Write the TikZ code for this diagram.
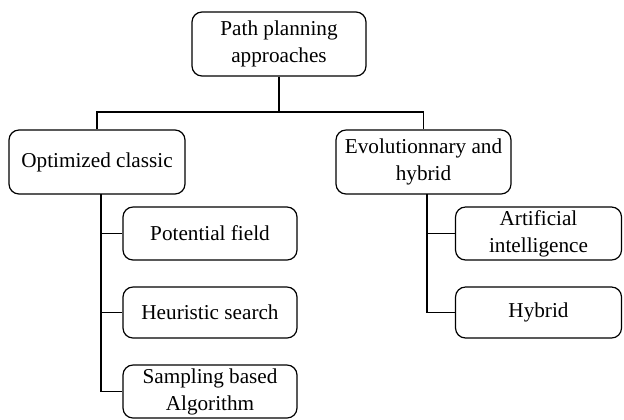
\documentclass[tikz,border=0pt]{standalone}
\usepackage{fontspec}
\setmainfont{Liberation Serif}
\usepackage{tikz}

\begin{document}
\begin{tikzpicture}[x=0.5pt,y=-0.5pt,
  box/.style={draw,rounded corners=5pt,line width=0.6pt,align=center,
    inner sep=0pt,font=\fontsize{10.6}{13.5}\selectfont},
  line/.style={line width=0.6pt}]
\useasboundingbox (0,0) rectangle (624,419);

% Root
\node[box,minimum width=87pt,minimum height=32pt] (root) at (279,44) {Path planning\\approaches};

% Level 1
\node[box,minimum width=88pt,minimum height=32pt] (classic) at (97,162) {Optimized classic};
\node[box,minimum width=87.5pt,minimum height=32pt] (evol) at (423.5,162) {Evolutionnary and\\hybrid};
\coordinate (bus) at (279,112);
\draw[line] (root.south) -- (bus);
\draw[line] (classic.north) |- (bus) -| (evol.north);

% Optimized classic
\node[box,minimum width=87pt,minimum height=26.5pt] (potential) at (210,233.5) {Potential field};
\node[box,minimum width=87pt,minimum height=25.5pt] (heuristic) at (210,312.5) {Heuristic search};
\node[box,minimum width=87pt,minimum height=26.5pt] (sampling) at (210,391.5) {Sampling based\\Algorithm};
\coordinate (ltrunk) at (101,194);
\draw[line] (ltrunk) |- (potential.west);
\draw[line] (ltrunk) |- (heuristic.west);
\draw[line] (ltrunk) |- (sampling.west);

% Evolutionnary and hybrid
\node[box,minimum width=83pt,minimum height=26.5pt] (ai) at (538.5,233.5) {Artificial\\intelligence};
\node[box,minimum width=83pt,minimum height=25.5pt] (hybrid) at (538.5,312.5) {Hybrid};
\coordinate (rtrunk) at (427,194);
\draw[line] (rtrunk) |- (ai.west);
\draw[line] (rtrunk) |- (hybrid.west);
\end{tikzpicture}
\end{document}
